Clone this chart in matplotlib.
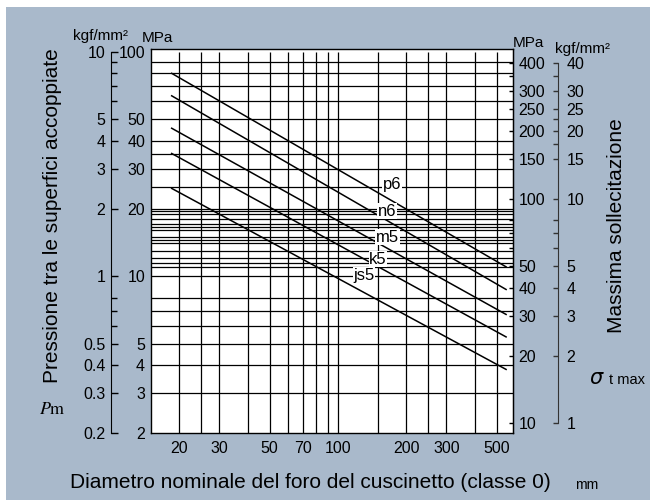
import matplotlib
matplotlib.use('Agg')
from matplotlib import pyplot as plt
from matplotlib.patches import Rectangle
from matplotlib.ticker import NullLocator

plt.rcParams['font.family'] = ['Liberation Sans', 'DejaVu Sans']
plt.rcParams['mathtext.fontset'] = 'stix'

# bore diameter range covered by the lines (mm)
bore_range = [18.5, 550]
fits = ['p6', 'n6', 'm5', 'k5', 'js5']
# pressure (MPa) at the start and end of each line
p_start = [80.1, 63.6, 45.6, 35.2, 24.6]
p_end = [11.0, 8.72, 6.75, 5.36, 3.84]
# where the fit names sit
label_x = [173, 164, 165, 150, 130]
label_y = [25.7, 19.5, 14.9, 11.9, 10.1]

x_ticks = [20, 30, 50, 70, 100, 200, 300, 500]
x_grid = [20, 25, 30, 40, 50, 60, 70, 80, 90, 100, 150, 200, 250, 300, 400, 500]
y_grid = [3, 4, 5, 6, 7, 8, 10, 11, 11.5, 12, 13, 14, 14.5, 15, 16, 16.5, 17, 18,
          19, 19.5, 20, 25, 30, 35, 40, 50, 60, 70, 80, 90]

left_mpa = [2, 3, 4, 5, 10, 20, 30, 40, 50, 100]
left_mpa_minor = [6, 7, 8, 60, 70, 80, 90]
left_kgf = [0.2, 0.3, 0.4, 0.5, 1, 2, 3, 4, 5, 10]
right_mpa = [10, 20, 30, 40, 50, 100, 150, 200, 250, 300, 400]
right_mpa_minor = [60, 70, 80, 350]
right_kgf = [1, 2, 3, 4, 5, 10, 15, 20, 25, 30, 40]
right_kgf_minor = [6, 7, 8, 17.5, 22.5, 35]

bg = '#a9b9cb'
W, H = 650, 500
tfs = 11.5


def rect(x0, y0, x1, y1):
    return [x0 / W, 1 - y1 / H, (x1 - x0) / W, (y1 - y0) / H]


def fmt(v):
    return ('%g' % v)


fig = plt.figure(figsize=(6.5, 5), dpi=100)
fig.patch.set_facecolor('white')
fig.patches.append(Rectangle((6 / W, 0), 1, 1 - 7 / H, transform=fig.transFigure,
                             facecolor=bg, edgecolor='none', zorder=-10))

# main plot
ax = fig.add_axes(rect(151, 49, 513, 433))
ax.set_facecolor('white')
ax.set_xscale('log')
ax.set_yscale('log')
ax.set_xlim(15, 590)
ax.set_ylim(2, 102.8)
ax.vlines(x_grid, 2, 100, color='black', lw=0.9)
ax.hlines(y_grid, 15, 590, color='black', lw=0.9)
for i in range(len(fits)):
    ax.plot(bore_range, [p_start[i], p_end[i]], color='black', lw=1.1)
    ax.text(label_x[i], label_y[i], fits[i], ha='center', va='center', fontsize=12,
            bbox=dict(facecolor='white', edgecolor='none', pad=0.5))
ax.set_xticks(x_ticks, [fmt(v) for v in x_ticks])
ax.xaxis.set_minor_locator(NullLocator())
ax.set_yticks([])
ax.yaxis.set_minor_locator(NullLocator())
ax.tick_params(axis='x', length=0, pad=6, labelsize=tfs)
for s in ax.spines.values():
    s.set_linewidth(1)

# left MPa scale
axp = fig.add_axes(rect(111, 49, 151, 433))
axp.patch.set_visible(False)
for k in ['top', 'right', 'bottom']:
    axp.spines[k].set_visible(False)
axp.set_yscale('log')
axp.set_ylim(2, 102.8)
axp.spines['left'].set_bounds(2, 100)
axp.set_xticks([])
axp.set_yticks(left_mpa, [fmt(v) for v in left_mpa])
axp.set_yticks(left_mpa_minor, minor=True)
axp.yaxis.set_minor_formatter(plt.NullFormatter())
axp.tick_params(axis='y', which='major', direction='in', length=5.3, width=1,
                pad=-24.5, labelsize=tfs)
axp.tick_params(axis='y', which='minor', direction='in', length=4, width=1)

# left kgf/mm2 labels
axk = fig.add_axes(rect(111, 49, 151, 433))
axk.patch.set_visible(False)
for s in axk.spines.values():
    s.set_visible(False)
axk.set_yscale('log')
axk.set_ylim(0.2, 10.28)
axk.set_xticks([])
axk.set_yticks(left_kgf, [fmt(v) for v in left_kgf])
axk.yaxis.set_minor_locator(NullLocator())
axk.tick_params(axis='y', length=0, pad=4, labelsize=tfs)

# right MPa scale on the frame
axr = fig.add_axes(rect(151, 49, 513, 433))
axr.patch.set_visible(False)
for k in ['top', 'left', 'bottom']:
    axr.spines[k].set_visible(False)
axr.set_yscale('log')
axr.set_ylim(9.05, 463)
axr.set_xticks([])
axr.yaxis.tick_right()
axr.set_yticks(right_mpa, [fmt(v) for v in right_mpa])
axr.set_yticks(right_mpa_minor, minor=True)
axr.yaxis.set_minor_formatter(plt.NullFormatter())
axr.tick_params(axis='y', which='both', direction='in', length=3, width=1,
                pad=4, labelsize=tfs)

# right kgf/mm2 scale
axr2 = fig.add_axes(rect(558, 49, 559, 433))
axr2.patch.set_visible(False)
for k in ['top', 'right', 'bottom']:
    axr2.spines[k].set_visible(False)
axr2.spines['left'].set_color('#333333')
axr2.set_yscale('log')
axr2.set_ylim(0.905, 46.3)
axr2.spines['left'].set_bounds(1, 40)
axr2.set_xticks([])
axr2.set_yticks(right_kgf, [fmt(v) for v in right_kgf])
axr2.set_yticks(right_kgf_minor, minor=True)
axr2.yaxis.set_minor_formatter(plt.NullFormatter())
axr2.tick_params(axis='y', which='both', left=True, right=False, labelleft=False,
                 labelright=True, direction='out', length=3.75, width=1,
                 pad=1.5, labelsize=tfs, color='#333333')

# texts
fs = 11
fig.text(101 / W, 1 - 36 / H, 'kgf/mm²', ha='center', va='center', fontsize=fs)
fig.text(157 / W, 1 - 38 / H, 'MPa', ha='center', va='center', fontsize=fs)
fig.text(528 / W, 1 - 43 / H, 'MPa', ha='center', va='center', fontsize=fs)
fig.text(583 / W, 1 - 49 / H, 'kgf/mm²', ha='center', va='center', fontsize=fs)
fig.text(53 / W, 1 - 216 / H, 'Pressione tra le superfici accoppiate', rotation=90,
         ha='center', va='center', fontsize=15)
fig.text(52 / W, 1 - 410 / H, r'$P$m', ha='center', va='center', fontsize=13,
         family='STIXGeneral')
fig.text(310 / W, 1 - 483 / H, 'Diametro nominale del foro del cuscinetto (classe 0)',
         ha='center', va='center', fontsize=15)
fig.text(587 / W, 1 - 485 / H, 'mm', ha='center', va='center', fontsize=10)
fig.text(617 / W, 1 - 226 / H, 'Massima sollecitazione', rotation=90,
         ha='center', va='center', fontsize=15)
fig.text(596 / W, 1 - 378 / H, 'σ', ha='center', va='center', fontsize=15,
         style='italic', family='DejaVu Sans')
fig.text(627 / W, 1 - 380 / H, 't max', ha='center', va='center', fontsize=10.5)

fig.savefig('out.png', dpi=100, facecolor=fig.get_facecolor())
